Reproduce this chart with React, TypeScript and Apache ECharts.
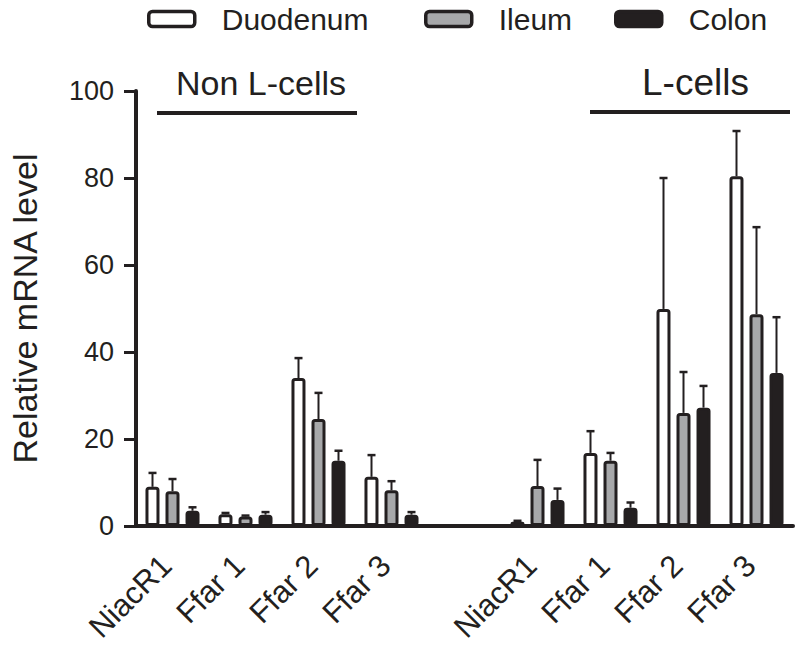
import React, { useEffect, useRef } from "react";
import * as echarts from "echarts";

const categories = ["NiacR1", "Ffar 1", "Ffar 2", "Ffar 3", "", "NiacR1", "Ffar 1", "Ffar 2", "Ffar 3"];
const seriesNames = ["Duodenum", "Ileum", "Colon"];
const duodenum = [9.0, 2.7, 34.0, 11.3, null, 1.0, 16.8, 49.9, 80.4];
const duodenumErr = [3.2, 0.3, 4.6, 5.0, null, 0.2, 5.0, 30.1, 10.4];
const ileum = [8.0, 2.2, 24.6, 8.2, null, 9.2, 15.0, 26.0, 48.7];
const ileumErr = [2.8, 0.2, 6.0, 2.1, null, 6.0, 1.8, 9.4, 20.0];
const colon = [3.5, 2.6, 15.0, 2.6, null, 6.0, 4.2, 27.2, 35.2];
const colonErr = [0.8, 0.6, 2.3, 0.6, null, 2.6, 1.2, 5.0, 12.8];
const yTicks = { min: 0, max: 100, interval: 20 };
const groupLabels = ["Non L-cells", "L-cells"];

const FONT = "'Liberation Sans', Arial, Helvetica, sans-serif";
const INK = "#231f20";
const fills = ["#ffffff", "#a7a8aa", INK];
const values = [duodenum, ileum, colon];
const errs = [duodenumErr, ileumErr, colonErr];

const BAR_W = 14;
const BAR_STEP = 20;

export default function App() {
  const ref = useRef<HTMLDivElement>(null);
  useEffect(() => {
    if (!ref.current) return;
    const chart = echarts.init(ref.current, null, { renderer: "svg" });

    const barSeries = seriesNames.map((name, s) => ({
      name,
      type: "bar",
      data: values[s].map((v) => (v === null ? "-" : v)),
      barWidth: BAR_W,
      barGap: "43%",
      itemStyle: { color: fills[s], borderColor: INK, borderWidth: 3, borderRadius: 2 },
      z: 2,
    }));

    const errSeries = seriesNames.map((name, s) => ({
      name: name + " err",
      type: "custom",
      z: 3,
      data: values[s]
        .map((v, i) => (v === null ? null : [i, v, v + (errs[s][i] as number)]))
        .filter((d) => d !== null),
      encode: { x: 0, y: [1, 2] },
      renderItem: (params: any, api: any) => {
        const i = api.value(0);
        const p0 = api.coord([i, api.value(1)]);
        const p1 = api.coord([i, api.value(2)]);
        const x = p0[0] + (s - 1) * BAR_STEP;
        return {
          type: "group",
          children: [
            { type: "line", shape: { x1: x, y1: p0[1], x2: x, y2: p1[1] }, style: { stroke: INK, lineWidth: 2 } },
            { type: "line", shape: { x1: x - 4, y1: p1[1], x2: x + 4, y2: p1[1] }, style: { stroke: INK, lineWidth: 2.5 } },
          ],
        };
      },
    }));

    const legendLefts = [147, 424, 614];
    const legends = seriesNames.map((name, s) => ({
      data: [name],
      left: legendLefts[s],
      top: 4,
      padding: 0,
      icon: "roundRect",
      itemWidth: 46,
      itemHeight: 15,
      itemStyle: { borderWidth: 3.5, borderColor: INK },
      textStyle: { fontSize: 30, fontFamily: FONT, color: INK, padding: [0, 0, 0, 22] },
      selectedMode: false,
    }));

    chart.setOption({
      animation: false,
      legend: legends,
      grid: { left: 130, right: 7, top: 91, bottom: 125, containLabel: false },
      xAxis: {
        type: "category",
        data: categories,
        axisLine: { lineStyle: { color: INK, width: 4 } },
        axisTick: { alignWithLabel: true, interval: 0, length: 12, lineStyle: { color: INK, width: 3 } },
        axisLabel: { interval: 0, rotate: 45, margin: 28, padding: [0, 9, 0, 0], fontSize: 31, fontFamily: FONT, color: INK },
      },
      yAxis: {
        type: "value",
        min: yTicks.min,
        max: yTicks.max,
        interval: yTicks.interval,
        name: "Relative mRNA level",
        nameLocation: "middle",
        nameGap: 94,
        nameTextStyle: { fontSize: 34, fontFamily: FONT, color: INK },
        axisLine: { show: true, lineStyle: { color: INK, width: 4 } },
        axisTick: { show: true, length: 12, lineStyle: { color: INK, width: 3 } },
        axisLabel: { margin: 22, fontSize: 27, fontFamily: FONT, color: INK },
        splitLine: { show: false },
      },
      graphic: [
        { type: "text", left: 176, top: 66, style: { text: groupLabels[0], fontSize: 34, fontFamily: FONT, fill: INK } },
        { type: "line", shape: { x1: 157, y1: 113, x2: 357, y2: 113 }, style: { stroke: INK, lineWidth: 4 } },
        { type: "text", left: 642, top: 64, style: { text: groupLabels[1], fontSize: 37, fontFamily: FONT, fill: INK } },
        { type: "line", shape: { x1: 590, y1: 112, x2: 790, y2: 112 }, style: { stroke: INK, lineWidth: 4 } },
      ],
      series: [...barSeries, ...errSeries],
    });
    return () => chart.dispose();
  }, []);
  return (
    <div
      ref={ref}
      style={{ position: "fixed", left: 0, top: 0, width: 800, height: 651, background: "#fff" }}
    />
  );
}
